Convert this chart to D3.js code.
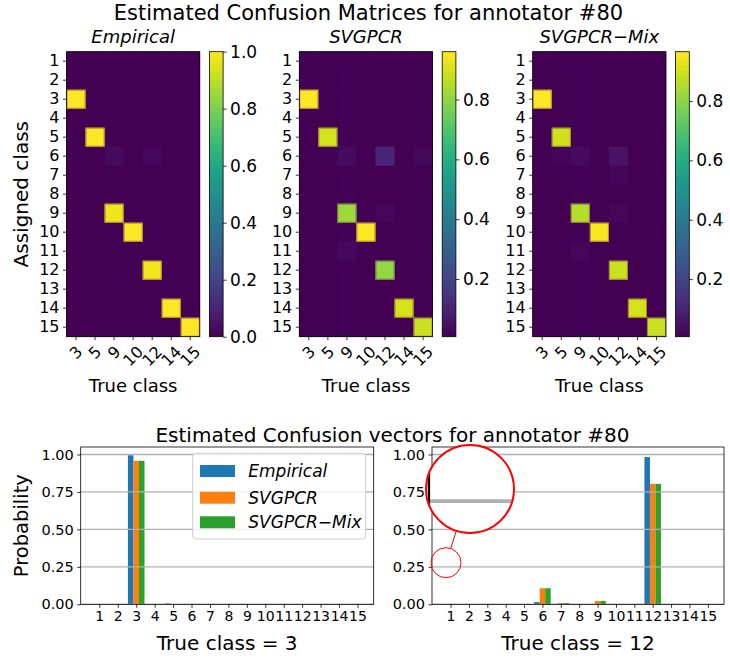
<!DOCTYPE html>
<html>
<head>
<meta charset="utf-8">
<script src="https://cdn.jsdelivr.net/npm/d3@7"></script>
<style>
  body { margin: 0; background: #fff; }
  svg { display: block; font-family: "DejaVu Sans", sans-serif; }
</style>
</head>
<body>
<script>
// ---------------- data ----------------
const annotator = 80;
const assignedClasses = [1, 2, 3, 4, 5, 6, 7, 8, 9, 10, 11, 12, 13, 14, 15];
const trueClasses = [3, 5, 9, 10, 12, 14, 15];
const methodNames = ["Empirical", "SVGPCR", "SVGPCR\u2212Mix"];

// Confusion matrices, one column (15 assigned-class probabilities) per true class
const empiricalCM = [
  [0, 0, 0.995, 0, 0.005, 0, 0, 0, 0, 0, 0, 0, 0, 0, 0],
  [0, 0, 0, 0, 1, 0, 0, 0, 0, 0, 0, 0, 0, 0, 0],
  [0, 0, 0, 0, 0, 0.025, 0, 0, 0.975, 0, 0, 0, 0, 0, 0],
  [0, 0, 0, 0, 0, 0, 0, 0, 0, 1, 0, 0, 0, 0, 0],
  [0, 0, 0, 0, 0, 0.017, 0, 0, 0, 0, 0, 0.983, 0, 0, 0],
  [0, 0, 0, 0, 0, 0, 0, 0, 0, 0, 0, 0, 0, 1, 0],
  [0, 0, 0, 0, 0, 0, 0, 0, 0, 0, 0, 0, 0, 0, 1]
];
const svgpcrCM = [
  [0.007, 0.007, 0.960, 0.007, 0.008, 0.008, 0.007, 0.007, 0.007, 0.007, 0.007, 0.007, 0.007, 0.007, 0.007],
  [0.007, 0.007, 0.008, 0.007, 0.895, 0.012, 0.008, 0.007, 0.008, 0.007, 0.008, 0.008, 0.007, 0.007, 0.007],
  [0.011, 0.011, 0.012, 0.011, 0.012, 0.035, 0.012, 0.011, 0.820, 0.011, 0.026, 0.012, 0.011, 0.011, 0.011],
  [0.007, 0.007, 0.007, 0.007, 0.007, 0.008, 0.007, 0.007, 0.008, 0.955, 0.007, 0.008, 0.007, 0.007, 0.007],
  [0.007, 0.007, 0.007, 0.007, 0.007, 0.107, 0.008, 0.007, 0.022, 0.007, 0.007, 0.804, 0.007, 0.007, 0.007],
  [0.007, 0.007, 0.007, 0.007, 0.007, 0.008, 0.007, 0.007, 0.007, 0.007, 0.007, 0.007, 0.007, 0.900, 0.007],
  [0.007, 0.007, 0.007, 0.007, 0.007, 0.022, 0.007, 0.007, 0.007, 0.007, 0.007, 0.007, 0.007, 0.007, 0.885]
];
const svgpcrMixCM = [
  [0.006, 0.006, 0.966, 0.006, 0.007, 0.007, 0.006, 0.006, 0.006, 0.006, 0.006, 0.006, 0.006, 0.006, 0.006],
  [0.006, 0.006, 0.007, 0.006, 0.895, 0.014, 0.007, 0.006, 0.007, 0.006, 0.007, 0.007, 0.006, 0.006, 0.006],
  [0.012, 0.012, 0.012, 0.012, 0.012, 0.030, 0.012, 0.012, 0.860, 0.012, 0.024, 0.012, 0.012, 0.012, 0.012],
  [0.006, 0.006, 0.006, 0.006, 0.006, 0.007, 0.006, 0.006, 0.007, 0.955, 0.006, 0.007, 0.006, 0.006, 0.006],
  [0.006, 0.006, 0.006, 0.006, 0.006, 0.052, 0.018, 0.006, 0.022, 0.006, 0.006, 0.890, 0.006, 0.006, 0.006],
  [0.006, 0.006, 0.006, 0.006, 0.006, 0.007, 0.006, 0.006, 0.006, 0.006, 0.006, 0.006, 0.006, 0.905, 0.006],
  [0.006, 0.006, 0.006, 0.006, 0.006, 0.009, 0.006, 0.006, 0.006, 0.006, 0.006, 0.006, 0.006, 0.006, 0.885]
];
const colorbarTicks = [
  [0, 0.2, 0.4, 0.6, 0.8, 1.0],
  [0.2, 0.4, 0.6, 0.8],
  [0.2, 0.4, 0.6, 0.8]
];

// Confusion vectors (assigned classes 1..15) shown as grouped bars
const vectorTrueClasses = [3, 12];
const vec3Empirical = [0, 0, 0.995, 0, 0.005, 0, 0, 0, 0, 0, 0, 0, 0, 0, 0];
const vec3Svgpcr    = [0, 0, 0.958, 0, 0, 0, 0, 0, 0, 0, 0, 0, 0, 0, 0];
const vec3Mix       = [0, 0, 0.958, 0, 0, 0, 0, 0, 0, 0, 0, 0, 0, 0, 0];
const vec12Empirical = [0, 0, 0, 0, 0, 0.015, 0, 0, 0, 0, 0, 0.983, 0, 0, 0];
const vec12Svgpcr    = [0, 0, 0, 0, 0, 0.107, 0.008, 0, 0.022, 0, 0, 0.804, 0, 0, 0];
const vec12Mix       = [0, 0, 0, 0, 0, 0.107, 0.008, 0, 0.022, 0, 0, 0.804, 0, 0, 0];
const probTicks = [0, 0.25, 0.5, 0.75, 1.0];
const barColors = ["#1f77b4", "#ff7f0e", "#2ca02c"];

// ---------------- drawing ----------------
const svg = d3.select("body").append("svg").attr("width", 730).attr("height", 658);
const defs = svg.append("defs");

function styleAxis(g, size) {
  g.attr("font-family", null).attr("font-size", null);
  g.select(".domain").remove();
  g.selectAll(".tick line").attr("stroke", "#000").attr("stroke-width", 0.8);
  g.selectAll(".tick text").attr("fill", "#000").style("font-size", size + "px");
}

svg.append("text")
  .attr("x", 368.5).attr("y", 20).attr("text-anchor", "middle")
  .style("font-size", "21px")
  .text(`Estimated Confusion Matrices for annotator #${annotator}`);

// heatmap panels
const matrices = [empiricalCM, svgpcrCM, svgpcrMixCM];
const panelLeft = [66.5, 299.3, 532.7];
const hmTop = 51.7, hmW = 133.3, hmH = 285;
const cbGap = 142.9, cbW = 13.7;

matrices.forEach((cm, i) => {
  const left = panelLeft[i];
  const g = svg.append("g");
  const cells = [];
  cm.forEach((col, j) => col.forEach((v, k) =>
    cells.push({ t: trueClasses[j], a: assignedClasses[k], v })));
  const dom = i === 0 ? [0, 1] : d3.extent(cells, d => d.v);
  const color = d3.scaleSequential(d3.interpolateViridis).domain(dom);
  const x = d3.scaleBand().domain(trueClasses).range([left, left + hmW]);
  const y = d3.scaleBand().domain(assignedClasses).range([hmTop, hmTop + hmH]);
  const low = color(dom[0]);
  const norm = v => (v - dom[0]) / (dom[1] - dom[0]);

  // backdrop in the lowest colour so that cell seams stay invisible
  g.append("rect").attr("x", left).attr("y", hmTop).attr("width", hmW).attr("height", hmH)
    .attr("fill", low);

  g.selectAll("rect.cell")
    .data(cells.slice().sort((p, q) => p.v - q.v))
    .join("rect")
    .attr("x", d => x(d.t)).attr("y", d => y(d.a))
    .attr("width", x.bandwidth()).attr("height", y.bandwidth())
    .attr("fill", d => color(d.v));

  // soft rim around the bright cells
  g.selectAll("rect.rim")
    .data(cells.filter(d => norm(d.v) > 0.3))
    .join("rect")
    .attr("x", d => x(d.t) + 0.5).attr("y", d => y(d.a) + 0.5)
    .attr("width", x.bandwidth() - 1).attr("height", y.bandwidth() - 1)
    .attr("fill", "none")
    .attr("stroke", d => d3.interpolateRgb(color(d.v), low)(0.4))
    .attr("stroke-width", 1);

  g.append("rect")
    .attr("x", left).attr("y", hmTop).attr("width", hmW).attr("height", hmH)
    .attr("fill", "none").attr("stroke", "#000").attr("stroke-width", 0.8);

  const ya = g.append("g").attr("transform", `translate(${left},0)`)
    .call(d3.axisLeft(y).tickSize(3.5).tickPadding(3.5));
  styleAxis(ya, 16);

  // rotated tick labels for the true classes
  const xb = hmTop + hmH;
  g.selectAll("line.xt").data(trueClasses).join("line")
    .attr("x1", d => x(d) + x.bandwidth() / 2).attr("x2", d => x(d) + x.bandwidth() / 2)
    .attr("y1", xb).attr("y2", xb + 3.5)
    .attr("stroke", "#000").attr("stroke-width", 0.8);
  const xl = g.selectAll("text.xt").data(trueClasses).join("text")
    .attr("text-anchor", "middle").attr("dominant-baseline", "central")
    .style("font-size", "16px").text(d => d);
  xl.attr("transform", function (d) {
    const w = this.getComputedTextLength();
    const half = (w + 15) * Math.SQRT1_2 / 2;
    return `translate(${x(d) + x.bandwidth() / 2},${xb + 7 + half}) rotate(-45)`;
  });

  g.append("text")
    .attr("x", left + hmW / 2).attr("y", 43.3).attr("text-anchor", "middle")
    .style("font-size", "18px").style("font-style", "italic")
    .text(methodNames[i]);
  g.append("text")
    .attr("x", left + hmW / 2).attr("y", 391.7).attr("text-anchor", "middle")
    .style("font-size", "18px").text("True class");

  // colorbar
  const gid = "cbgrad" + i;
  const grad = defs.append("linearGradient").attr("id", gid)
    .attr("x1", 0).attr("y1", 1).attr("x2", 0).attr("y2", 0);
  d3.range(0, 1.0001, 0.05).forEach(t =>
    grad.append("stop").attr("offset", t).attr("stop-color", d3.interpolateViridis(t)));
  const cbx = left + cbGap;
  g.append("rect").attr("x", cbx).attr("y", hmTop).attr("width", cbW).attr("height", hmH)
    .attr("fill", `url(#${gid})`).attr("stroke", "#000").attr("stroke-width", 0.8);
  const cy = d3.scaleLinear().domain(dom).range([hmTop + hmH, hmTop]);
  const ca = g.append("g").attr("transform", `translate(${cbx + cbW},0)`)
    .call(d3.axisRight(cy).tickValues(colorbarTicks[i]).tickFormat(d3.format(".1f"))
      .tickSize(3.5).tickPadding(3.5));
  styleAxis(ca, 17);
});

svg.append("text")
  .attr("transform", `translate(28,${hmTop + hmH / 2}) rotate(-90)`)
  .attr("text-anchor", "middle").style("font-size", "20px")
  .text("Assigned class");

// bar panels
svg.append("text")
  .attr("x", 392.5).attr("y", 441.7).attr("text-anchor", "middle")
  .style("font-size", "20px")
  .text(`Estimated Confusion vectors for annotator #${annotator}`);

const barPanels = [
  { left: 80.7, right: 373.7, vecs: [vec3Empirical, vec3Svgpcr, vec3Mix], id: "cv3" },
  { left: 432, right: 724, vecs: [vec12Empirical, vec12Svgpcr, vec12Mix], id: "cv12" }
];
const bTop = 447, bBot = 604.3;
const py = d3.scaleLinear().domain([0, 1.05]).range([bBot, bTop]);
const barW = 0.3;

barPanels.forEach((p, pi) => {
  const g = svg.append("g").attr("id", p.id);
  const x = d3.scaleLinear().domain([-0.01, 15.88]).range([p.left, p.right]);
  g.append("rect").attr("x", p.left).attr("y", bTop)
    .attr("width", p.right - p.left).attr("height", bBot - bTop).attr("fill", "#fff");

  p.vecs.forEach((vec, m) => {
    g.selectAll(null).data(vec.map((v, k) => ({ c: assignedClasses[k], v })))
      .join("rect")
      .attr("x", d => x(d.c + (m - 1) * barW - barW / 2))
      .attr("width", x(barW) - x(0))
      .attr("y", d => py(d.v))
      .attr("height", d => py(0) - py(d.v))
      .attr("fill", barColors[m]);
  });

  g.selectAll("line.grid").data(probTicks).join("line")
    .attr("x1", p.left).attr("x2", p.right)
    .attr("y1", d => py(d)).attr("y2", d => py(d))
    .attr("stroke", "#b0b0b0").attr("stroke-width", 1.3);

  g.append("rect").attr("x", p.left).attr("y", bTop)
    .attr("width", p.right - p.left).attr("height", bBot - bTop)
    .attr("fill", "none").attr("stroke", "#000").attr("stroke-width", 0.8);

  const ya = g.append("g").attr("transform", `translate(${p.left},0)`)
    .call(d3.axisLeft(py).tickValues(probTicks).tickFormat(d3.format(".2f"))
      .tickSize(3.5).tickPadding(3.5));
  styleAxis(ya, 14.5);
  const xa = g.append("g").attr("transform", `translate(0,${bBot})`)
    .call(d3.axisBottom(x).tickValues(assignedClasses).tickFormat(d3.format("d"))
      .tickSize(3.5).tickPadding(3.5));
  styleAxis(xa, 14);

  g.append("text")
    .attr("x", (p.left + p.right) / 2).attr("y", 650).attr("text-anchor", "middle")
    .style("font-size", "20px").text(`True class = ${vectorTrueClasses[pi]}`);
});

svg.append("text")
  .attr("transform", `translate(27.5,${(bTop + bBot) / 2}) rotate(-90)`)
  .attr("text-anchor", "middle").style("font-size", "19.5px")
  .text("Probability");

// legend
const leg = svg.append("g");
leg.append("rect").attr("x", 192.7).attr("y", 453.3).attr("width", 173).attr("height", 85.7)
  .attr("rx", 3).attr("fill", "#fff").attr("fill-opacity", 0.8)
  .attr("stroke", "#cccccc").attr("stroke-width", 1);
const legY = [471, 497.7, 522.3];
methodNames.forEach((name, m) => {
  leg.append("rect").attr("x", 200).attr("y", legY[m] - 6).attr("width", 35).attr("height", 12)
    .attr("fill", barColors[m]);
  leg.append("text").attr("x", 248.3).attr("y", legY[m] + 6)
    .style("font-size", "17px").style("font-style", "italic").text(name);
});

// magnifier lens over the lower-left of the second bar panel
const src = { x: 446, y: 562.7, r: 15 };
const dst = { x: 470, y: 489, r: 44 };
const k = dst.r / src.r;
defs.append("clipPath").attr("id", "lensClip")
  .append("circle").attr("cx", dst.x).attr("cy", dst.y).attr("r", dst.r);
const lens = svg.append("g");
const inner = lens.append("g").attr("clip-path", "url(#lensClip)");
inner.append("rect").attr("x", dst.x - dst.r).attr("y", dst.y - dst.r)
  .attr("width", 2 * dst.r).attr("height", 2 * dst.r).attr("fill", "#fff");
inner.append("use").attr("href", "#cv12")
  .attr("transform", `translate(${dst.x},${dst.y}) scale(${k}) translate(${-src.x},${-src.y})`);
lens.append("circle").attr("cx", dst.x).attr("cy", dst.y).attr("r", dst.r)
  .attr("fill", "none").attr("stroke", "#ff0000").attr("stroke-width", 2);
lens.append("circle").attr("cx", src.x).attr("cy", src.y).attr("r", src.r)
  .attr("fill", "none").attr("stroke", "#ff0000").attr("stroke-width", 1);
const ang = Math.atan2(dst.y - src.y, dst.x - src.x);
lens.append("line")
  .attr("x1", src.x + src.r * Math.cos(ang)).attr("y1", src.y + src.r * Math.sin(ang))
  .attr("x2", dst.x - dst.r * Math.cos(ang)).attr("y2", dst.y - dst.r * Math.sin(ang))
  .attr("stroke", "#ff0000").attr("stroke-width", 1);
</script>
</body>
</html>
